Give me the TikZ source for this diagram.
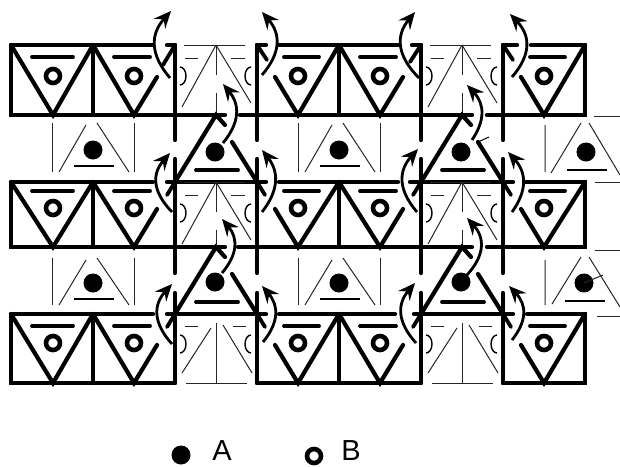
\documentclass[tikz,border=0pt]{standalone}
\usepackage{fontspec}
\setmainfont{Liberation Sans}
\usetikzlibrary{arrows.meta}
\tikzset{
 heavy/.style={line width=4.2pt,line cap=round,black},
 mid/.style={line width=3.8pt,line cap=round,black},
 thin/.style={line width=1pt,black!85},
 arr/.style={line width=2.8pt,-{Stealth[length=17pt,width=15pt,inset=6pt]},black},
 dotA/.style={fill=black},
 ringB/.style={draw=black,line width=4.6pt,fill=white},
 lab/.style={font=\fontsize{29}{29}\selectfont,text=black,inner sep=0pt}
}
\newcommand{\Vfull}[5]{%
 \draw[heavy] (#1,#2) -- ({#1+42},#3) -- ({#1+82},#2);
 \draw[mid] ({#1+21},#5) -- ({#1+62},#5);
 \draw[ringB] ({#1+42},#4) circle (7pt);}
\newcommand{\Vright}[5]{%
 \draw[heavy] (#1,#2) -- ({#1+41},#3) -- ({#1+64},{#3-38});
 \draw[mid] ({#1+21},#5) -- ({#1+57},#5);
 \draw[ringB] ({#1+41},#4) circle (7pt);}
\newcommand{\Vleft}[5]{%
 \draw[heavy] ({#1+18},{#3-38}) -- ({#1+41},#3) -- ({#1+82},#2);
 \draw[mid] ({#1+27},#5) -- ({#1+62},#5);
 \draw[ringB] ({#1+41},#4) circle (7pt);}
\newcommand{\thincell}[3]{%
 \draw[thin] ({#1+9},#2) -- ({#1+70},#2);
 \draw[thin] ({#1+41},#2) -- ({#1+7},{#2+62});
 \draw[thin] ({#1+41},#2) -- ({#1+76},{#2+58});
 \draw[thin] ({#1+41},#2) -- ({#1+41},{#2+30});
 \draw[thin] ({#1+41},{#2+48}) -- ({#1+41},#3);
 \draw[thin] ({#1+10},{#2+13}) -- ({#1+23},{#2+13});
 \draw[thin] ({#1+56},{#2+13}) -- ({#1+70},{#2+13});
 \draw[line width=1.4pt] ({#1+5},{#2+22}) arc (90:-90:6pt and 9pt);
 \draw[line width=1.4pt] ({#1+76},{#2+22}) arc (90:270:6pt and 9pt);}
\newcommand{\thincellB}[3]{%
 \draw[thin] ({#1+11},{#3}) -- ({#1+72},{#3});
 \draw[thin] ({#1+36},{#2+14}) -- ({#1+7},{#2+59});
 \draw[thin] ({#1+48},{#2+11}) -- ({#1+77},{#2+59});
 \draw[thin] ({#1+41},{#2+9}) -- ({#1+41},#3);
 \draw[thin] ({#1+10},{#2+12}) -- ({#1+23},{#2+12});
 \draw[thin] ({#1+58},{#2+12}) -- ({#1+71},{#2+12});
 \draw[line width=1.4pt] ({#1+5},{#2+21}) arc (90:-90:6pt and 9pt);
 \draw[line width=1.4pt] ({#1+76},{#2+21}) arc (90:270:6pt and 9pt);}
\newcommand{\lighttri}[5]{%
 \draw[thin] ({#1-41},#2) -- ({#1-41},#3);
 \draw[thin] ({#1+41},#2) -- ({#1+41},#3);
 \draw[thin] ({#1-7},{#2+2}) -- ({#1-34},#3);
 \draw[thin] ({#1+4},#2) -- ({#1+36},#3);
 \draw[line width=1.6pt] ({#1-19},#5) -- ({#1+21},#5);
 \fill[dotA] (#1,#4) circle (9.5pt);}
\newcommand{\heavytri}[5]{%
 \draw[heavy] (#1,#3) -- ({#1+41},#2) -- ({#1+50},{#2+10});
 \draw[heavy] ({#1+57},{#2+27}) -- ({#1+82},#3);
 \draw[mid] ({#1+21},#5) -- ({#1+63},#5);
 \fill[dotA] ({#1+40},#4) circle (9.5pt);
 \draw[mid] (#1,#3) -- ({#1-8},{#3+13});
 \draw[mid] ({#1+82},#3) -- ({#1+90},{#3+13});}
\begin{document}
\begin{tikzpicture}[x=1pt,y=-1pt]
\useasboundingbox (0,0) rectangle (620,466);
\fill[white] (0,0) rectangle (620,466);
\draw[heavy] (11,45) -- (153,45) (167,45) -- (175,45) (257,45) -- (266,45) (279,45) -- (398,45) (412,45) -- (421,45);
\draw[heavy] (503,45) -- (517,45) (531,45) -- (585,45);
\draw[heavy] (11,45) -- (11,115) -- (225,115) (240,115) -- (472,115) (487,115) -- (585,115) -- (585,45);
\draw[heavy] (11,182) -- (153,182) (167,182) -- (266,182) (279,182) -- (398,182) (410,182) -- (513,182) (525,182) -- (585,182) -- (585,247) -- (487,247) (472,247) -- (238,247) (225,247) -- (11,247) -- (11,182);
\draw[heavy] (11,314) -- (153,314) (167,314) -- (266,314) (279,314) -- (395,314) (414,314) -- (513,314) (527,314) -- (585,314) -- (585,383) -- (503,383) (421,383) -- (257,383) (175,383) -- (11,383) -- (11,314);
\foreach \x in {93,339} {
 \draw[heavy] (\x,45) -- (\x,115) (\x,182) -- (\x,247) (\x,314) -- (\x,383);}
\foreach \x in {175,257,421,503} {
 \draw[heavy] (\x,45) -- (\x,140) (\x,159) -- (\x,273) (\x,293) -- (\x,383);}
\foreach \t/\b/\r/\s in {45/115/76/57,182/247/208/191,314/383/343/326} {
 \Vfull{11}{\t}{\b}{\r}{\s}
 \Vright{93}{\t}{\b}{\r}{\s}
 \Vleft{257}{\t}{\b}{\r}{\s}
 \Vright{339}{\t}{\b}{\r}{\s}
 \Vleft{503}{\t}{\b}{\r}{\s}
}
\thincell{175}{45}{115}
\thincell{421}{45}{115}
\thincell{175}{182}{247}
\thincell{421}{182}{247}
\thincellB{175}{314}{383}
\thincellB{421}{314}{383}
\foreach \x in {93,339} {
 \lighttri{\x}{123}{172}{150}{166}
 \lighttri{\x}{258}{305}{283}{299}}
\draw[thin] (545,125) -- (545,172) (581,123) -- (551,173) (589,123) -- (620,175);
\draw[line width=1.6pt] (567,170) -- (607,170);
\fill[dotA] (586,152) circle (9.5pt);
\draw[thin] (545,260) -- (545,305) (581,257) -- (552,304) (589,257) -- (620,307);
\draw[line width=1.6pt] (565,301) -- (605,301);
\fill[dotA] (584,283) circle (9.5pt);
\draw[thin] (584,283) -- (603,275);
\draw[thin] (594,116) -- (620,116) (595,182) -- (620,182) (595,250) -- (620,250) (597,316) -- (620,316);
\heavytri{175}{115}{182}{152}{170}
\heavytri{421}{115}{182}{152}{170}
\heavytri{175}{247}{314}{282}{302}
\heavytri{421}{247}{314}{282}{302}
\draw[mid] (175,45) -- (163,65) (257,45) -- (267,60) (421,45) -- (410,62) (503,45) -- (513,60);
\draw[line width=1pt] (478,142) -- (489,137);
\foreach \xa/\ya/\xm/\xb/\yb in {170/78/150/171/11,262/75/281/262/12,419/78/396/415/12,512/77/531/510/14,
 223/143/240/223/84,472/140/485/467/85,
 172/212/152/170/153,262/212/279/262/150,417/212/398/418/149,512/212/527/508/152,
 222/273/238/222/219,467/275/485/467/218,
 172/344/153/172/284,263/342/279/262/286,416/343/397/415/283,512/340/527/509/286}
 \draw[arr] (\xa,\ya) .. controls (\xm,{\ya+(\yb-\ya)*0.35}) and (\xm,{\ya+(\yb-\ya)*0.65}) .. (\xb,\yb);
\fill[dotA] (181,455) circle (9.5pt);
\node[lab] (labA) at (222,451) {A};
\draw[ringB] (314,456) circle (7pt);
\node[lab] (labB) at (351,451) {B};
\end{tikzpicture}
\end{document}
